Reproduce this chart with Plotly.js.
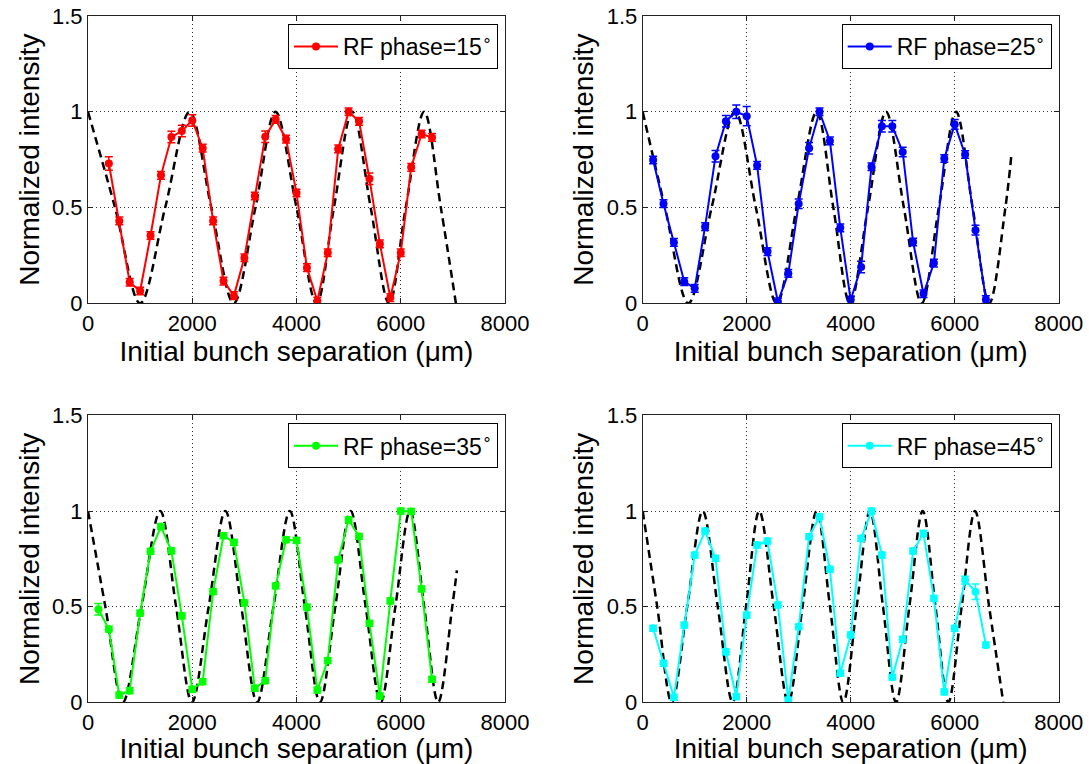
<!DOCTYPE html>
<html><head><meta charset="utf-8">
<script src="https://cdn.plot.ly/plotly-3.0.1.min.js"></script>
<style>html,body{margin:0;padding:0;background:#fff}#chart{width:1089px;height:764px}</style>
</head><body><div id="chart"></div>
<script>
// ---------- data ----------
const xTicks = [0, 2000, 4000, 6000, 8000];
const yTicks = [0, 0.5, 1, 1.5];
const yTickText = ['0', '0.5', '1', '1.5'];
const xTitle = 'Initial bunch separation (\u03bcm)';
const yTitle = 'Normalized intensity';
const phaseLabels = ['RF phase=15<sup>\u2218</sup>', 'RF phase=25<sup>\u2218</sup>', 'RF phase=35<sup>\u2218</sup>', 'RF phase=45<sup>\u2218</sup>'];
const seriesColors = ['#ff0000', '#0000ff', '#00ff00', '#00ffff'];

// RF phase 15
const x15 = [400,600,800,1000,1200,1400,1600,1800,2000,2200,2400,2600,2800,3000,3200,3400,3600,3800,4000,4200,4400,4600,4800,5000,5200,5400,5600,5800,6000,6200,6400,6600];
const y15 = [0.73,0.43,0.11,0.064,0.354,0.668,0.868,0.90,0.955,0.81,0.43,0.116,0.04,0.238,0.56,0.87,0.96,0.857,0.576,0.186,0.012,0.264,0.806,1.0,0.95,0.65,0.31,0.03,0.264,0.71,0.884,0.866];
const e15 = [0.035,0.02,0.02,0.02,0.02,0.02,0.03,0.03,0.03,0.02,0.02,0.02,0.02,0.02,0.02,0.03,0.02,0.02,0.02,0.02,0.02,0.02,0.02,0.02,0.02,0.03,0.02,0.02,0.02,0.02,0.02,0.02];
const theoryX15 = [0,519,1000,1481,1949,2365,2795,3212,3596,4000,4385,4718,5071,5423,5776,6096,6449,6769,7058];
const theoryY15 = [1,0.5,0,0.5,1,0.5,0,0.5,1,0.5,0,0.5,1,0.5,0,0.5,1,0.5,0];

// RF phase 25
const x25 = [200,400,600,800,1000,1200,1400,1600,1800,2000,2200,2400,2600,2800,3000,3200,3400,3600,3800,4000,4200,4400,4600,4800,5000,5200,5400,5600,5800,6000,6200,6400,6600];
const y25 = [0.748,0.52,0.318,0.113,0.078,0.40,0.768,0.951,1.0,0.977,0.72,0.27,0.008,0.156,0.52,0.81,1.0,0.848,0.394,0.017,0.19,0.713,0.925,0.925,0.79,0.32,0.05,0.21,0.756,0.934,0.777,0.382,0.02];
const e25 = [0.02,0.02,0.02,0.02,0.02,0.02,0.03,0.03,0.035,0.05,0.02,0.02,0.02,0.02,0.025,0.03,0.02,0.02,0.02,0.02,0.03,0.02,0.03,0.03,0.025,0.02,0.02,0.02,0.02,0.025,0.02,0.025,0.02];
const theoryX25 = [0,429,877,1326,1775,2176,2577,2962,3346,3666,3986,4333,4679,5022,5365,5695,6025,6345,6665,6975,7096];
const theoryY25 = [1,0.5,0,0.5,1,0.5,0,0.5,1,0.5,0,0.5,1,0.5,0,0.5,1,0.5,0,0.5,0.79];

// RF phase 35
const x35 = [200,400,600,800,1000,1200,1400,1600,1800,2000,2200,2400,2600,2800,3000,3200,3400,3600,3800,4000,4200,4400,4600,4800,5000,5200,5400,5600,5800,6000,6200,6400,6600];
const y35 = [0.487,0.382,0.038,0.061,0.466,0.789,0.919,0.792,0.452,0.068,0.108,0.579,0.871,0.836,0.52,0.073,0.113,0.609,0.85,0.846,0.497,0.064,0.218,0.745,0.954,0.867,0.413,0.033,0.53,1.0,0.998,0.593,0.12];
const e35 = [0.03,0.015,0.015,0.015,0.015,0.015,0.015,0.015,0.015,0.015,0.015,0.015,0.015,0.015,0.015,0.015,0.015,0.015,0.015,0.015,0.015,0.015,0.015,0.015,0.015,0.015,0.015,0.015,0.015,0.015,0.015,0.015,0.015];
const theoryX35 = [0,333,667,1026,1385,1690,1994,2315,2635,2940,3244,3558,3872,4160,4449,4744,5038,5327,5615,5897,6179,6449,6718,6988,7077];
const theoryY35 = [1,0.5,0,0.5,1,0.5,0,0.5,1,0.5,0,0.5,1,0.5,0,0.5,1,0.5,0,0.5,1,0.5,0,0.5,0.69];

// RF phase 45
const x45 = [200,400,600,800,1000,1200,1400,1600,1800,2000,2200,2400,2600,2800,3000,3200,3400,3600,3800,4000,4200,4400,4600,4800,5000,5200,5400,5600,5800,6000,6200,6400,6600];
const y45 = [0.387,0.204,0.026,0.404,0.77,0.895,0.753,0.264,0.03,0.456,0.822,0.843,0.509,0.012,0.395,0.866,0.97,0.695,0.152,0.352,0.857,1.0,0.77,0.131,0.329,0.791,0.883,0.543,0.055,0.387,0.639,0.578,0.30];
const e45 = [0.015,0.015,0.015,0.015,0.015,0.015,0.015,0.015,0.015,0.015,0.015,0.015,0.015,0.015,0.015,0.015,0.015,0.015,0.015,0.015,0.015,0.015,0.015,0.015,0.015,0.015,0.015,0.015,0.015,0.015,0.02,0.04,0.015];
const theoryX45 = [0,279,558,856,1154,1443,1731,1987,2242,2521,2800,3073,3346,3602,3858,4115,4371,4621,4871,5128,5384,5631,5877,6134,6390,6662,6934];
const theoryY45 = [1,0.5,0,0.5,1,0.5,0,0.5,1,0.5,0,0.5,1,0.5,0,0.5,1,0.5,0,0.5,1,0.5,0,0.5,1,0.5,0];

// ---------- build ----------
const FONT = '"Liberation Sans", Arial, Helvetica, sans-serif';
const W = 1089, H = 764;
const panels = [
  {x: x15, y: y15, e: e15, tx: theoryX15, ty: theoryY15, xd: [88, 505], yd: [16, 303.3]},
  {x: x25, y: y25, e: e25, tx: theoryX25, ty: theoryY25, xd: [642.7, 1058.7], yd: [16, 303.3]},
  {x: x35, y: y35, e: e35, tx: theoryX35, ty: theoryY35, xd: [88, 505], yd: [415.4, 702.3]},
  {x: x45, y: y45, e: e45, tx: theoryX45, ty: theoryY45, xd: [642.7, 1058.7], yd: [415.4, 702.3]}
];

const traces = [];
const layout = {
  width: W, height: H,
  margin: {l: 0, r: 0, t: 0, b: 0},
  paper_bgcolor: '#fff', plot_bgcolor: '#fff',
  font: {family: FONT, color: '#000', size: 22},
  showlegend: true
};

panels.forEach((p, i) => {
  const n = i === 0 ? '' : String(i + 1);
  const xa = 'x' + n, ya = 'y' + n;
  traces.push({
    type: 'scatter', mode: 'lines', x: p.tx, y: p.ty, xaxis: xa, yaxis: ya,
    line: {color: '#000', width: 2.5, dash: '8px,5px', shape: 'spline', smoothing: 1},
    showlegend: false, hoverinfo: 'skip'
  });
  traces.push({
    type: 'scatter', mode: 'lines+markers', x: p.x, y: p.y, xaxis: xa, yaxis: ya,
    name: phaseLabels[i],
    legend: 'legend' + n,
    line: {color: seriesColors[i], width: 2},
    marker: {color: seriesColors[i], size: 8, symbol: 'circle'},
    error_y: {type: 'data', array: p.e, visible: true, color: seriesColors[i], thickness: 1.5, width: 4}
  });
  const axCommon = {
    showline: true, linecolor: '#222', linewidth: 1, mirror: 'ticks',
    ticks: 'inside', ticklen: 5, tickcolor: '#222', tickwidth: 1,
    showgrid: true, gridcolor: '#333', griddash: '1px,3px', gridwidth: 1,
    zeroline: false, tickfont: {family: FONT, size: 22, color: '#000'},
    fixedrange: true
  };
  layout['xaxis' + n] = Object.assign({}, axCommon, {
    domain: [p.xd[0] / W, p.xd[1] / W], anchor: ya,
    range: [0, 8000], tickmode: 'array', tickvals: xTicks, ticktext: xTicks.map(String),
    title: {text: xTitle, font: {family: FONT, size: 28, color: '#000'}, standoff: 2}
  });
  layout['yaxis' + n] = Object.assign({}, axCommon, {
    domain: [1 - p.yd[1] / H, 1 - p.yd[0] / H], anchor: xa,
    range: [0, 1.5], tickmode: 'array', tickvals: yTicks, ticktext: yTickText,
    title: {text: yTitle, font: {family: FONT, size: 28, color: '#000'}, standoff: 4}
  });
  layout['legend' + n] = {
    x: (p.xd[1] - 7) / W, xanchor: 'right',
    y: 1 - (p.yd[0] + 8) / H, yanchor: 'top',
    bgcolor: '#fff', bordercolor: '#000', borderwidth: 1,
    itemwidth: 44,
    font: {family: FONT, size: 23, color: '#000'}
  };
});

Plotly.newPlot('chart', traces, layout, {staticPlot: true, displayModeBar: false});
</script>
</body></html>
